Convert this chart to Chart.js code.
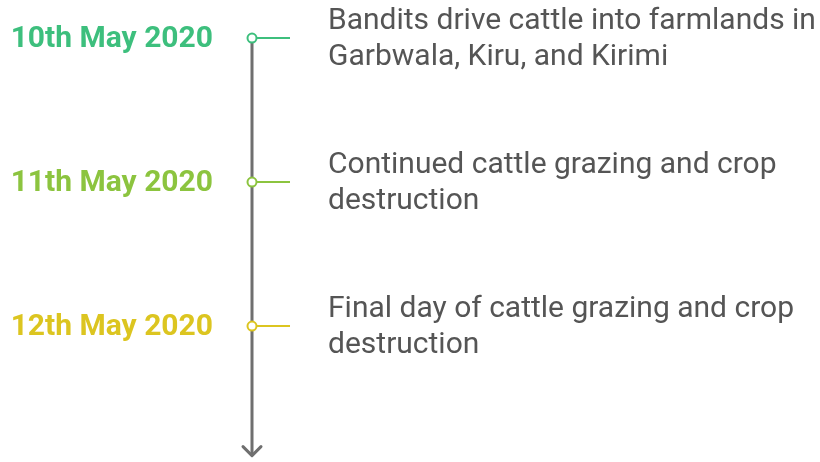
<!DOCTYPE html>
<html><head><meta charset="utf-8">
<script src="https://cdn.jsdelivr.net/npm/chart.js@4/dist/chart.umd.min.js"></script>
<style>html,body{margin:0;padding:0;background:#fff}#wrap{width:820px;height:462px}</style>
</head><body><div id="wrap"><canvas id="c"></canvas></div>
<script>
const dates = ["10th May 2020", "11th May 2020", "12th May 2020"];
const descriptions = [
  ["Bandits drive cattle into farmlands in", "Garbwala, Kiru, and Kirimi"],
  ["Continued cattle grazing and crop", "destruction"],
  ["Final day of cattle grazing and crop", "destruction"]
];
const eventIndex = [0, 1, 2];
const colors = ["#3dbf7d", "#8cc43f", "#dcc520"];

const SPINE_X = 252;
const ARROW_END = 2.9;

const timelinePlugin = {
  id: 'timeline',
  afterDatasetsDraw(chart) {
    const ctx = chart.ctx;
    const xs = chart.scales.x, ys = chart.scales.y;
    const px = xs.getPixelForValue(SPINE_X);
    const tipY = ys.getPixelForValue(ARROW_END);
    ctx.save();
    ctx.strokeStyle = "#6f6f6f";
    ctx.lineWidth = 3;
    ctx.lineCap = "round";
    ctx.lineJoin = "round";
    ctx.beginPath();
    ctx.moveTo(px - 9, tipY - 9);
    ctx.lineTo(px, tipY);
    ctx.lineTo(px + 9, tipY - 9);
    ctx.stroke();
    eventIndex.forEach((v, i) => {
      const py = ys.getPixelForValue(v);
      ctx.strokeStyle = colors[i];
      ctx.lineWidth = 2;
      ctx.lineCap = "butt";
      ctx.beginPath();
      ctx.moveTo(px + 5, py);
      ctx.lineTo(px + 38, py);
      ctx.stroke();
      ctx.fillStyle = colors[i];
      ctx.font = "bold 30px Roboto";
      ctx.textAlign = "right";
      ctx.textBaseline = "middle";
      ctx.fillText(dates[i], px - 39, py + 1);
      ctx.fillStyle = "#555555";
      ctx.font = "30px Roboto";
      ctx.textAlign = "left";
      const lines = descriptions[i];
      const lh = 36;
      const start = py + 1 - (lines.length - 1) * lh / 2;
      lines.forEach((t, j) => ctx.fillText(t, px + 76, start + j * lh));
    });
    ctx.restore();
  }
};

new Chart(document.getElementById('c'), {
  type: 'scatter',
  data: {
    datasets: [
      {
        type: 'line',
        data: [{x: SPINE_X, y: eventIndex[0]}, {x: SPINE_X, y: ARROW_END}],
        borderColor: "#6f6f6f",
        borderWidth: 3,
        pointRadius: 0,
        order: 2
      },
      {
        data: eventIndex.map(v => ({x: SPINE_X, y: v})),
        pointRadius: 4.5,
        pointBorderWidth: 2,
        pointBackgroundColor: "#ffffff",
        pointBorderColor: colors,
        order: 1
      }
    ]
  },
  options: {
    responsive: true,
    maintainAspectRatio: false,
    animation: false,
    layout: {padding: 0, autoPadding: false},
    plugins: {legend: {display: false}, tooltip: {enabled: false}},
    scales: {
      x: {type: 'linear', min: 0, max: 820, display: false},
      y: {type: 'linear', min: -0.264, max: 2.944, reverse: true, display: false}
    }
  },
  plugins: [timelinePlugin]
});
</script>
</body></html>
